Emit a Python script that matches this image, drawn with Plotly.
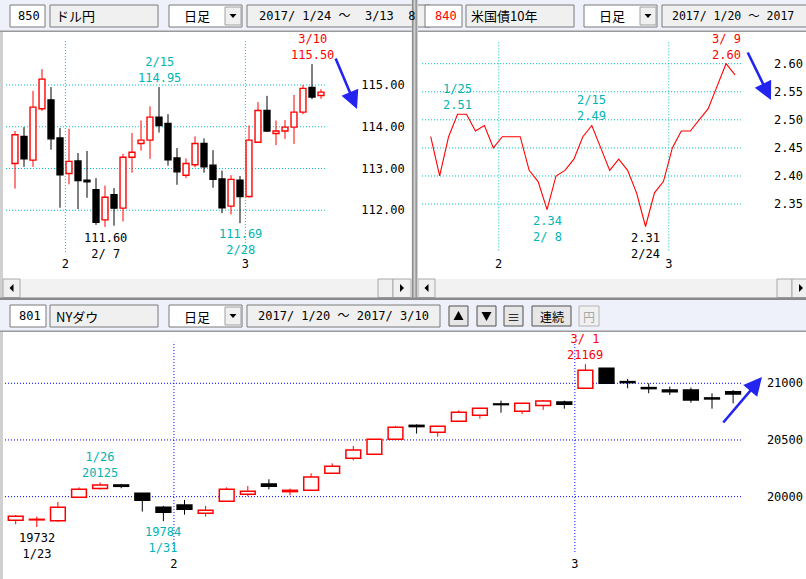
import plotly.graph_objects as go

W, H = 806, 579

# ---------------- data ----------------
fx_dates = ['1/24', '1/25', '1/26', '1/27', '1/30', '1/31', '2/1', '2/2', '2/3', '2/6', '2/7', '2/8',
            '2/9', '2/10', '2/13', '2/14', '2/15', '2/16', '2/17', '2/20', '2/21', '2/22', '2/23',
            '2/24', '2/27', '2/28', '3/1', '3/2', '3/3', '3/6', '3/7', '3/8', '3/9', '3/10', '3/13']
fx_open = [113.12, 113.77, 113.20, 114.43, 114.64, 113.73, 112.88, 113.18, 112.72, 112.49, 111.77, 112.37,
           112.05, 113.27, 113.60, 113.68, 114.23, 114.08, 113.25, 112.84, 113.09, 113.60, 113.08,
           112.75, 112.10, 112.72, 112.33, 113.63, 114.39, 113.84, 113.90, 113.99, 114.35, 114.94, 114.75]
fx_high = [113.90, 113.99, 114.86, 115.38, 114.95, 113.97, 113.95, 113.37, 113.42, 112.77, 112.59, 112.53,
           113.35, 113.85, 114.15, 114.49, 114.95, 114.30, 113.49, 113.24, 113.77, 113.72, 113.44,
           112.95, 112.84, 112.82, 114.03, 114.59, 114.74, 114.15, 114.16, 114.76, 115.00, 115.50, 114.90]
fx_low = [112.52, 113.04, 113.04, 114.38, 113.45, 112.06, 112.62, 112.03, 112.30, 111.65, 111.60, 111.63,
          111.73, 112.90, 113.43, 113.23, 113.86, 113.07, 112.61, 112.77, 113.03, 112.90, 112.54,
          111.93, 111.90, 111.69, 112.30, 113.62, 113.88, 113.56, 113.71, 113.59, 114.30, 114.66, 114.67]
fx_close = [113.81, 113.23, 114.47, 115.14, 113.71, 112.85, 113.17, 112.71, 112.68, 111.71, 112.31, 112.05,
            113.27, 113.39, 113.68, 114.23, 114.03, 113.21, 112.92, 113.12, 113.60, 113.04, 112.74,
            112.06, 112.74, 112.33, 113.68, 114.39, 113.90, 113.90, 113.99, 114.35, 114.92, 114.71, 114.83]
fx_ticks = [112.00, 113.00, 114.00, 115.00]

ust_dates = ['1/20', '1/23', '1/24', '1/25', '1/26', '1/27', '1/30', '1/31', '2/1', '2/2', '2/3', '2/6',
             '2/7', '2/8', '2/9', '2/10', '2/13', '2/14', '2/15', '2/16', '2/17', '2/21', '2/22', '2/23',
             '2/24', '2/27', '2/28', '3/1', '3/2', '3/3', '3/6', '3/7', '3/8', '3/9', '3/10']
ust_yield = [2.47, 2.40, 2.47, 2.51, 2.51, 2.48, 2.49, 2.45, 2.47, 2.47, 2.47, 2.41,
             2.39, 2.34, 2.40, 2.41, 2.43, 2.47, 2.49, 2.45, 2.41, 2.43, 2.41, 2.37,
             2.31, 2.37, 2.39, 2.45, 2.48, 2.48, 2.50, 2.52, 2.56, 2.60, 2.58]
ust_ticks = [2.35, 2.40, 2.45, 2.50, 2.55, 2.60]

dow_dates = ['1/20', '1/23', '1/24', '1/25', '1/26', '1/27', '1/30', '1/31', '2/1', '2/2', '2/3', '2/6',
             '2/7', '2/8', '2/9', '2/10', '2/13', '2/14', '2/15', '2/16', '2/17', '2/21', '2/22', '2/23',
             '2/24', '2/27', '2/28', '3/1', '3/2', '3/3', '3/6', '3/7', '3/8', '3/9', '3/10']
dow_open = [19791, 19795, 19788, 19994, 20071, 20103, 20029, 19906, 19926, 19853, 19959, 20021,
            20112, 20044, 20056, 20206, 20338, 20374, 20506, 20629, 20568, 20665, 20718, 20818,
            20753, 20803, 20835, 20956, 21132, 21015, 20962, 20941, 20941, 20871, 20926]
dow_high = [19838, 19824, 19953, 20082, 20125, 20112, 20031, 19918, 19971, 19918, 20082, 20094,
            20153, 20071, 20206, 20294, 20447, 20508, 20624, 20638, 20621, 20762, 20779, 20847,
            20823, 20853, 20847, 21169, 21132, 21038, 21000, 20971, 20962, 20912, 20941]
dow_low = [19756, 19732, 19777, 19994, 20062, 20074, 19868, 19784, 19841, 19824, 19959, 20003,
           20065, 20012, 20056, 20206, 20321, 20372, 20500, 20556, 20529, 20665, 20688, 20741,
           20729, 20765, 20776, 20956, 21000, 20956, 20912, 20897, 20829, 20776, 20823]
dow_close = [19827, 19800, 19906, 20065, 20103, 20091, 19968, 19862, 19888, 19880, 20065, 20047,
             20091, 20056, 20174, 20268, 20412, 20506, 20612, 20618, 20621, 20744, 20779, 20812,
             20823, 20844, 20815, 21115, 21000, 21006, 20953, 20926, 20853, 20862, 20906]
dow_ticks = [20000, 20500, 21000]

# highlighted highs / lows: (date, kind, colour)
CYAN_T = '#00B4B4'
fx_marks = [('2/15', 'high', CYAN_T), ('2/7', 'low', '#000000'), ('2/28', 'low', CYAN_T), ('3/10', 'high', '#FF0000')]
ust_marks = [('1/25', 'high', CYAN_T), ('2/8', 'low', CYAN_T), ('2/15', 'high', CYAN_T),
             ('2/24', 'low', '#000000'), ('3/9', 'high', '#FF0000')]
dow_marks = [('1/23', 'low', '#000000'), ('1/26', 'high', CYAN_T), ('1/31', 'low', CYAN_T), ('3/1', 'high', '#FF0000')]

# ---------------- styles ----------------
RED = '#FF0000'
BLACK = '#000000'
GRID_C = '#00C0C0'
GRID_B = '#0000FF'
MONO = 'DejaVu Sans Mono, Noto Sans CJK JP, monospace'
JP = 'Noto Sans CJK JP, DejaVu Sans, sans-serif'
NB = '\u00a0'
DOT = '1px,2px'

fig = go.Figure()
shapes = []
annos = []


def px(x):
    return x / W


def py(y):
    return 1 - y / H


def rect(x0, y0, x1, y1, fill, border=None, lw=1):
    shapes.append(dict(type='rect', xref='paper', yref='paper', x0=px(x0), x1=px(x1), y0=py(y1), y1=py(y0),
                       fillcolor=fill, line=dict(width=lw if border else 0, color=border or fill), layer='below'))


def tri(points, color='black'):
    path = 'M ' + ' L '.join(f'{px(x):.5f},{py(y):.5f}' for x, y in points) + ' Z'
    shapes.append(dict(type='path', xref='paper', yref='paper', path=path, fillcolor=color,
                       line=dict(width=0, color=color), layer='below'))


def text(x, y, s, size=12, color='black', anchor='left', family=MONO):
    annos.append(dict(xref='paper', yref='paper', x=px(x), y=py(y), text=s.replace(' ', NB), showarrow=False,
                      xanchor=anchor, yanchor='middle', font=dict(family=family, size=size, color=color)))


def arrow(tx, ty, hx, hy):
    annos.append(dict(xref='paper', yref='paper', x=px(hx), y=py(hy), ax=tx - hx, ay=ty - hy, text='',
                      showarrow=True, arrowhead=2, arrowsize=1.4, arrowwidth=2.6, arrowcolor='#2424F0',
                      standoff=0, startstandoff=0))


def candles(xa, ya, o, h, l, c, width, lw):
    idx = list(range(len(o)))
    for up in (True, False):
        sel = [i for i in idx if (c[i] >= o[i]) == up]
        color = RED if up else BLACK
        wx, wy = [], []
        for i in sel:
            top, bot = max(o[i], c[i]), min(o[i], c[i])
            wx += [i, i, None, i, i, None]
            wy += [h[i], top, None, bot, l[i], None]
        fig.add_trace(go.Scatter(x=wx, y=wy, mode='lines', line=dict(color=color, width=1),
                                 xaxis=xa, yaxis=ya, hoverinfo='skip', showlegend=False))
        fig.add_trace(go.Bar(x=sel, base=[min(o[i], c[i]) for i in sel], y=[abs(c[i] - o[i]) for i in sel],
                             width=width, marker=dict(color='white' if up else 'black', line=dict(color=color, width=lw)),
                             xaxis=xa, yaxis=ya, hoverinfo='skip', showlegend=False))


def marks(xa, ya, dates, hi, lo, mk, fmt):
    for d, kind, color in mk:
        i = dates.index(d)
        m, dd = d.split('/')
        ds = f'{m}/{dd:>2}'.replace(' ', NB)
        if kind == 'high':
            v, t, ya_ = hi[i], f'{ds}<br>{fmt(hi[i])}', 'bottom'
            ys = 0
        else:
            v, t, ya_ = lo[i], f'{fmt(lo[i])}<br>{ds}', 'top'
            ys = -2
        annos.append(dict(xref=xa, yref=ya, x=i, y=v, text=t, showarrow=False, xanchor='center', yanchor=ya_,
                          yshift=ys, font=dict(family=MONO, size=12, color=color)))


def month_starts(dates):
    out = []
    for i in range(1, len(dates)):
        if dates[i].split('/')[0] != dates[i - 1].split('/')[0]:
            out.append((i, dates[i].split('/')[0]))
    return out


def panel_grid(xa, ya, ticks, dates, color, x_ext, y_ext, off):
    for v in ticks:
        shapes.append(dict(type='line', xref=f'{xa} domain', yref=ya, x0=x_ext[0], x1=x_ext[1], y0=v, y1=v,
                           line=dict(color=color, width=1, dash=DOT), layer='below'))
    for i, _ in month_starts(dates):
        shapes.append(dict(type='line', xref=xa, yref=f'{ya} domain', x0=i + off, x1=i + off,
                           y0=y_ext[0], y1=y_ext[1], line=dict(color=color, width=1, dash=DOT), layer='below'))


# ---------------- chrome ----------------
HDR = '#EEF1FA'
BTN = '#F0F0F0'
BRD = '#7A7A7A'

# top panel backgrounds
rect(0, 30.5, 806, 32, '#9A9A9A')
rect(0, 32, 3, 298, '#D0D0D0')
rect(3, 32, 412, 279, 'white')
rect(418, 32, 806, 279, 'white')
# scrollbars
rect(3, 279, 412, 297.5, '#F2F2F2')
rect(418, 279, 806, 297.5, '#F2F2F2')
rect(3, 279, 20, 297.5, BTN, '#A8A8A8')
tri([(13.5, 284), (13.5, 292), (9.5, 288)])
rect(378, 279, 393, 297.5, BTN, '#A8A8A8')
rect(393, 279, 411, 297.5, BTN, '#A8A8A8')
tri([(400, 284), (400, 292), (404, 288)])
rect(418, 279, 435, 297.5, BTN, '#A8A8A8')
tri([(428.5, 284), (428.5, 292), (424.5, 288)])
rect(777, 279, 792, 297.5, BTN, '#A8A8A8')
rect(792, 279, 807, 297.5, BTN, '#A8A8A8')
tri([(799, 284), (799, 292), (803, 288)])

# top headers
rect(10, 5, 45, 27, 'white', BRD)
text(42, 16, '850', anchor='right')
rect(50, 5, 158, 27, BTN, BRD)
text(54, 16, 'ドル円', size=13, family=JP)
rect(169, 5, 242, 27, 'white', BRD)
text(197, 16, '日足', size=13, anchor='center', family=JP)
rect(225, 7, 241, 25, BTN, '#A0A0A0')
tri([(229.5, 14), (236.5, 14), (233, 18)])
rect(247, 5, 430, 27, BTN, BRD)
text(257, 16, '2017/ 1/24 ～  3/13  8')

rect(425, 5, 462, 27, 'white', BRD)
text(459, 16, '840', color=RED, anchor='right')
rect(466, 5, 574, 27, BTN, BRD)
text(469, 16, '米国債10年', size=13, family=JP)
rect(584, 5, 657, 27, 'white', BRD)
text(612, 16, '日足', size=13, anchor='center', family=JP)
rect(640, 7, 656, 25, BTN, '#A0A0A0')
tri([(644.5, 14), (651.5, 14), (648, 18)])
rect(662, 5, 830, 27, BTN, BRD)
text(670, 16, '2017/ 1/20 ～ 2017', size=11.5)

# divider between top panels
rect(411.7, 0, 418, 298, '#D0D0D0')
rect(412, 0, 413.5, 298, '#8C8C8C')
rect(415.5, 0, 416.8, 298, '#8C8C8C')
rect(0, 297.5, 806, 300, '#8A8A8A')

# bottom header
rect(0, 330.5, 806, 332, '#9A9A9A')
rect(0, 332, 3, 579, '#D0D0D0')
rect(3, 332, 806, 579, 'white')
rect(10, 305, 46, 327, 'white', BRD)
text(43, 316, '801', anchor='right')
rect(50, 305, 158, 327, BTN, BRD)
text(54, 316, 'NYダウ', size=13, family=JP)
rect(169, 305, 242, 327, 'white', BRD)
text(197, 316, '日足', size=13, anchor='center', family=JP)
rect(225, 307, 241, 325, BTN, '#A0A0A0')
tri([(229.5, 314), (236.5, 314), (233, 318)])
rect(247, 305, 440, 327, BTN, BRD)
text(256, 316, '2017/ 1/20 ～ 2017/ 3/10')
rect(449, 306, 468, 326, '#E6E6E6', '#505050')
tri([(453.5, 320), (463.5, 320), (458.5, 311)])
rect(477, 306, 496, 326, '#E6E6E6', '#505050')
tri([(481.5, 312), (491.5, 312), (486.5, 321)])
rect(504, 306, 523, 326, '#E6E6E6', '#505050')
text(513.5, 316, '≡', size=13, anchor='center', family=JP)
rect(532, 306, 571, 326, '#E6E6E6', '#505050')
text(551.5, 316, '連続', size=12, anchor='center', family=JP)
rect(579, 306, 599, 326, '#F0F0F0', '#B4B4B4')
text(589, 316, '円', size=12, color='#A8A8A8', anchor='center', family=JP)

# ---------------- data traces ----------------
candles('x', 'y', fx_open, fx_high, fx_low, fx_close, 0.66, 1.4)
fig.add_trace(go.Scatter(x=list(range(len(ust_yield))), y=ust_yield, mode='lines', line=dict(color=RED, width=1.1),
                         xaxis='x2', yaxis='y2', hoverinfo='skip', showlegend=False))
candles('x3', 'y3', dow_open, dow_high, dow_low, dow_close, 0.7, 1.5)

panel_grid('x', 'y', fx_ticks, fx_dates, GRID_C, (0.0073, 0.792), (0.109, 0.964), -0.4)
panel_grid('x2', 'y2', ust_ticks, ust_dates, GRID_C, (0.0103, 0.835), (0.116, 0.961), -0.4)
panel_grid('x3', 'y3', dow_ticks, dow_dates, GRID_B, (0.0025, 0.920), (0.109, 0.96), -0.5)

marks('x', 'y', fx_dates, fx_high, fx_low, fx_marks, lambda v: f'{v:.2f}')
marks('x2', 'y2', ust_dates, ust_yield, ust_yield, ust_marks, lambda v: f'{v:.2f}')
marks('x3', 'y3', dow_dates, dow_high, dow_low, dow_marks, lambda v: f'{v:d}')

arrow(335, 57, 357, 109)
arrow(747, 51, 771, 100)
arrow(722, 424, 762, 377)


def xax(domain, rng, dates, off):
    ms = month_starts(dates)
    return dict(domain=domain, range=rng, showgrid=False, zeroline=False, showline=False, ticks='',
                tickvals=[i + off for i, _ in ms], ticktext=[m for _, m in ms], ticklabelposition='inside',
                ticklabelstandoff=6, tickfont=dict(family=MONO, size=12, color='black'), fixedrange=True)


def yax(domain, rng, ticks, fmt, standoff):
    return dict(domain=domain, range=rng, side='right', showgrid=False, zeroline=False, showline=False, ticks='',
                tickvals=ticks, ticktext=[fmt(v) for v in ticks], ticklabelposition='inside',
                ticklabelstandoff=standoff, tickfont=dict(family=MONO, size=12, color='black'), fixedrange=True)


TOP = [py(279), py(32)]
BOT = [0, py(332)]
fig.update_layout(
    width=W, height=H, margin=dict(l=0, r=0, t=0, b=0),
    paper_bgcolor=HDR, plot_bgcolor='rgba(0,0,0,0)', barmode='overlay', showlegend=False,
    xaxis=dict(xax([px(3), px(411.7)], [-1.3333, 44.078], fx_dates, -0.4), anchor='y'),
    yaxis=dict(yax(TOP, [110.3533, 116.2695], fx_ticks, lambda v: f'{v:.2f}', 4), anchor='x'),
    xaxis2=dict(xax([px(418), 1.0], [-1.419, 41.93], ust_dates, -0.4), anchor='y2'),
    yaxis2=dict(yax(TOP, [2.2165, 2.65647], ust_ticks, lambda v: f'{v:.2f}', 0), anchor='x2'),
    xaxis3=dict(xax([px(3), 1.0], [-0.602, 37.455], dow_dates, -0.5), anchor='y3'),
    yaxis3=dict(yax(BOT, [19273.2, 21452.6], dow_ticks, lambda v: f'{v:d}', 0), anchor='x3'),
    shapes=shapes, annotations=annos,
)

fig.write_html('out.html', config={'displayModeBar': False})
